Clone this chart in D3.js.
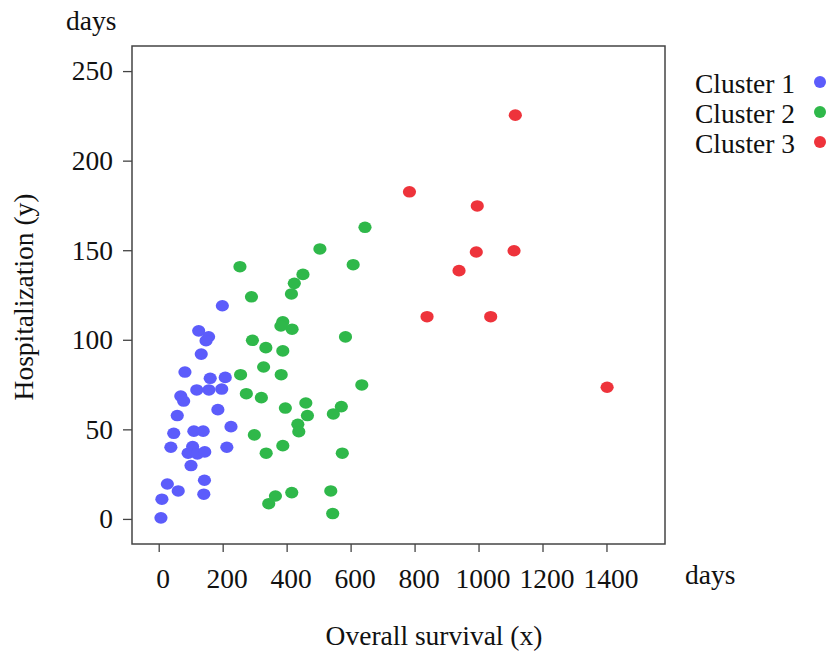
<!DOCTYPE html>
<html>
<head>
<meta charset="utf-8">
<script src="https://cdn.jsdelivr.net/npm/d3@7"></script>
<style>
  body { margin: 0; background: #fff; }
  svg text { font-family: "Liberation Serif", "Times New Roman", serif; fill: #111; }
</style>
</head>
<body>
<div id="chart"></div>
<script>
// cluster data (x = overall survival, y = hospitalization, days)
const cluster1X = [199, 125, 156, 148, 133, 82, 161, 208, 119, 157, 197, 69, 78, 185, 58, 226, 47, 110, 139, 38, 106, 92, 121, 144, 213, 101, 27, 61, 143, 141, 10, 7];
const cluster1Y = [119, 105, 101.7, 99.5, 92, 82, 78.5, 79, 72, 72, 72.5, 68.6, 65.8, 61, 57.7, 51.5, 47.8, 49, 49, 40, 40.4, 36.7, 36.3, 37.4, 40, 29.8, 19.5, 15.6, 21.6, 13.8, 11, 0.6];

const cluster2X = [254, 290, 451, 424, 415, 504, 608, 645, 388, 382, 417, 584, 293, 335, 388, 256, 328, 383, 635, 274, 321, 396, 460, 465, 571, 546, 435, 438, 299, 388, 336, 574, 365, 344, 416, 538, 544];
const cluster2Y = [140.8, 124, 136.5, 131.5, 125.6, 150.7, 141.9, 162.8, 110, 107.7, 105.9, 101.6, 99.7, 95.6, 93.8, 80.5, 84.8, 80.5, 74.8, 69.9, 67.7, 61.9, 64.7, 57.7, 62.7, 58.6, 52.8, 48.7, 46.9, 40.9, 36.7, 36.7, 12.8, 8.5, 14.7, 15.6, 3];

const cluster3X = [1115, 784, 996, 993, 1111, 939, 839, 1038, 1402];
const cluster3Y = [225.4, 182.6, 174.7, 149, 149.7, 138.6, 112.9, 112.9, 73.5];

const clusterNames = ["Cluster 1", "Cluster 2", "Cluster 3"];
const clusterColors = ["#5c5cfb", "#2fb84a", "#ee333b"];

const xTicks = [0, 200, 400, 600, 800, 1000, 1200, 1400];
const yTicks = [0, 50, 100, 150, 200, 250];

const width = 835;
const height = 651;
const fontSize = 27.5;
const plot = { left: 132, top: 46, right: 665, bottom: 544 };

const x = d3.scaleLinear().domain([-83.5, 1583]).range([plot.left, plot.right]);
const y = d3.scaleLinear().domain([-14, 264]).range([plot.bottom, plot.top]);

const svg = d3.select("#chart")
  .append("svg")
  .attr("width", width)
  .attr("height", height);

// plot frame
svg.append("rect")
  .attr("x", plot.left)
  .attr("y", plot.top)
  .attr("width", plot.right - plot.left)
  .attr("height", plot.bottom - plot.top)
  .attr("fill", "none")
  .attr("stroke", "#444")
  .attr("stroke-width", 1.5);

// axes
const xAxis = svg.append("g")
  .attr("transform", `translate(0,${plot.bottom})`)
  .call(d3.axisBottom(x).tickValues(xTicks).tickFormat(d3.format("d")).tickSize(8).tickPadding(16));

const yAxis = svg.append("g")
  .attr("transform", `translate(${plot.left},0)`)
  .call(d3.axisLeft(y).tickValues(yTicks).tickFormat(d3.format("d")).tickSize(9).tickPadding(10));

[xAxis, yAxis].forEach(g => {
  g.select(".domain").remove();
  g.selectAll(".tick line").attr("stroke", "#444").attr("stroke-width", 1.3);
  g.selectAll(".tick text")
    .attr("font-family", "Liberation Serif, serif")
    .attr("font-size", fontSize)
    .attr("fill", "#111");
});
xAxis.selectAll(".tick text").attr("dx", 4);

// points
const clusters = [
  cluster1X.map((v, i) => ({ x: v, y: cluster1Y[i], c: 0 })),
  cluster2X.map((v, i) => ({ x: v, y: cluster2Y[i], c: 1 })),
  cluster3X.map((v, i) => ({ x: v, y: cluster3Y[i], c: 2 }))
];

svg.append("g")
  .selectAll("ellipse")
  .data(clusters.flat())
  .enter()
  .append("ellipse")
  .attr("cx", d => x(d.x))
  .attr("cy", d => y(d.y))
  .attr("rx", 6.6)
  .attr("ry", 5.8)
  .attr("fill", d => clusterColors[d.c]);

// axis titles and units
svg.append("text")
  .attr("x", 434)
  .attr("y", 645)
  .attr("text-anchor", "middle")
  .attr("font-size", fontSize)
  .text("Overall survival (x)");

svg.append("text")
  .attr("transform", "translate(33,297) rotate(-90)")
  .attr("text-anchor", "middle")
  .attr("font-size", fontSize)
  .text("Hospitalization (y)");

svg.append("text")
  .attr("x", 66)
  .attr("y", 30)
  .attr("font-size", fontSize)
  .text("days");

svg.append("text")
  .attr("x", 685)
  .attr("y", 584)
  .attr("font-size", fontSize)
  .text("days");

// legend
const legend = svg.append("g")
  .selectAll("g")
  .data(clusterNames)
  .enter()
  .append("g")
  .attr("transform", (d, i) => `translate(0,${84 + i * 30})`);

legend.append("text")
  .attr("x", 695)
  .attr("y", 9)
  .attr("font-size", fontSize)
  .text(d => d);

legend.append("circle")
  .attr("cx", 820)
  .attr("cy", -2)
  .attr("r", 6)
  .attr("fill", (d, i) => clusterColors[i]);
</script>
</body>
</html>
